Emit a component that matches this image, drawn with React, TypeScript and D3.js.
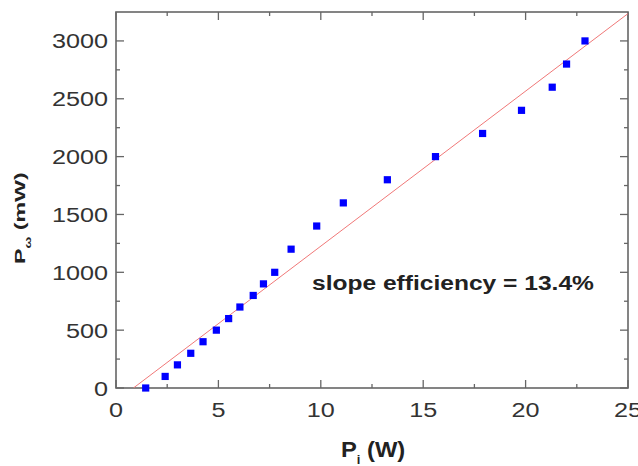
import * as d3 from "d3";

// pump power (W) vs laser output (mW)
const pumpPower = [1.45, 2.4, 3.0, 3.65, 4.25, 4.9, 5.5, 6.05, 6.7, 7.2, 7.75, 8.55, 9.8, 11.1, 13.25, 15.6, 17.9, 19.8, 21.3, 22.0, 22.9];
const outputPower = [0, 100, 200, 300, 400, 500, 600, 700, 800, 900, 1000, 1200, 1400, 1600, 1800, 2000, 2200, 2400, 2600, 2800, 3000];

// linear fit: slope (mW/W) and threshold (W)
const fitSlope = 134;
const fitThreshold = 0.85;

const xTicks = [0, 5, 10, 15, 20, 25];
const xMinor = [2.5, 7.5, 12.5, 17.5, 22.5];
const yTicks = [0, 500, 1000, 1500, 2000, 2500, 3000];
const yMinor = [250, 750, 1250, 1750, 2250, 2750];

const W = 638;
const H = 466;
const left = 116;
const right = 628;
const top = 12;
const bottom = 388;

const axisColor = "#666";
const textColor = "#333";
const font = "'Liberation Sans', Arial, sans-serif";

export default function App() {
  const x = d3.scaleLinear().domain([0, 25]).range([left, right]);
  const y = d3.scaleLinear().domain([0, 3250]).range([bottom, top]);

  const fitLine = d3
    .line<number>()
    .x(d => x(d))
    .y(d => y(fitSlope * (d - fitThreshold)));

  const points = pumpPower.map((p, i) => ({ p, o: outputPower[i] }));

  return (
    <svg
      width={W}
      height={H}
      style={{ position: "absolute", left: 0, top: 0, background: "#fff" }}
    >
      <defs>
        <clipPath id="plot">
          <rect x={left} y={top} width={right - left} height={bottom - top} />
        </clipPath>
      </defs>

      {/* ticks, all pointing inward */}
      <g stroke={axisColor} strokeWidth={1.3}>
        {xTicks.map(t => (
          <g key={"xt" + t}>
            <line x1={x(t)} x2={x(t)} y1={bottom} y2={bottom - 8} />
            <line x1={x(t)} x2={x(t)} y1={top} y2={top + 8} />
          </g>
        ))}
        {xMinor.map(t => (
          <g key={"xm" + t}>
            <line x1={x(t)} x2={x(t)} y1={bottom} y2={bottom - 4} />
            <line x1={x(t)} x2={x(t)} y1={top} y2={top + 4} />
          </g>
        ))}
        {yTicks.map(t => (
          <g key={"yt" + t}>
            <line x1={left} x2={left + 8} y1={y(t)} y2={y(t)} />
            <line x1={right} x2={right - 8} y1={y(t)} y2={y(t)} />
          </g>
        ))}
        {yMinor.map(t => (
          <g key={"ym" + t}>
            <line x1={left} x2={left + 4} y1={y(t)} y2={y(t)} />
            <line x1={right} x2={right - 4} y1={y(t)} y2={y(t)} />
          </g>
        ))}
      </g>

      <rect
        x={left}
        y={top}
        width={right - left}
        height={bottom - top}
        fill="none"
        stroke={axisColor}
        strokeWidth={1.6}
      />

      <path
        d={fitLine([fitThreshold, 25]) ?? ""}
        fill="none"
        stroke="#f07878"
        strokeWidth={1}
        clipPath="url(#plot)"
      />

      {points.map((d, i) => (
        <rect
          key={i}
          x={x(d.p) - 3.6}
          y={y(d.o) - 3.6}
          width={7.2}
          height={7.2}
          fill="#0000ff"
        />
      ))}

      {/* tick labels */}
      <g fontFamily={font} fontSize={21} fill={textColor}>
        {xTicks.map(t => (
          <text
            key={"xl" + t}
            textAnchor="middle"
            transform={`translate(${x(t)},${bottom + 29}) scale(1.2,1)`}
          >
            {t}
          </text>
        ))}
        {yTicks.map(t => (
          <text
            key={"yl" + t}
            textAnchor="end"
            transform={`translate(${left - 8},${y(t) + 7.5}) scale(1.2,1)`}
          >
            {t}
          </text>
        ))}
      </g>

      <text
        fontFamily={font}
        fontWeight="bold"
        fontSize={21}
        fill="#222"
        transform="translate(312,290) scale(1.17,1)"
      >
        slope efficiency = 13.4%
      </text>

      {/* x title */}
      <text
        fontFamily={font}
        fontWeight="bold"
        fontSize={22}
        fill="#222"
        transform="translate(341,457) scale(1.08,1)"
      >
        P
        <tspan fontSize={12} dy={7}>i</tspan>
        <tspan dy={-7}> (W)</tspan>
      </text>

      {/* y title */}
      <text
        fontFamily={font}
        fontWeight="bold"
        fontSize={15}
        fill="#222"
        transform="translate(25,264) rotate(-90) scale(1.55,1)"
      >
        P
        <tspan fontSize={9} dy={6}>ω</tspan>
        <tspan dy={-6}> (mW)</tspan>
      </text>
    </svg>
  );
}
